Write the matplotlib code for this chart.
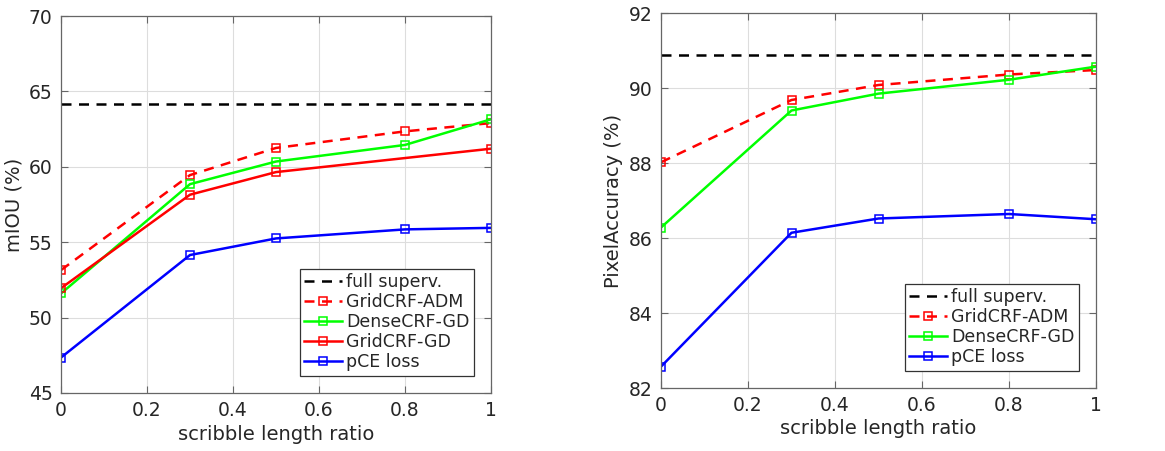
import matplotlib
matplotlib.use("Agg")
import matplotlib.pyplot as plt
import numpy as np

# Daten
ratios = [0, 0.3, 0.5, 0.8, 1]
ratios_gd = [0, 0.3, 0.5, 1]

miou_full = 64.15
miou_adm = [53.15, 59.45, 61.25, 62.35, 62.9]
miou_dense = [51.6, 58.85, 60.35, 61.45, 63.15]
miou_grid_gd = [51.95, 58.15, 59.65, 61.2]
miou_pce = [47.35, 54.15, 55.25, 55.85, 55.95]

acc_full = 90.88
acc_adm = [88.02, 89.68, 90.08, 90.36, 90.48]
acc_dense = [86.28, 89.4, 89.85, 90.22, 90.57]
acc_pce = [82.57, 86.14, 86.52, 86.64, 86.5]

x_ticks = [0, 0.2, 0.4, 0.6, 0.8, 1]
x_tick_labels = ['0', '0.2', '0.4', '0.6', '0.8', '1']

plt.rcParams['font.family'] = ['DejaVu Sans']
text_col = '#262626'
box_col = '#666666'

fig = plt.figure(figsize=(11.65, 4.51), dpi=100)
ax1 = fig.add_axes([61 / 1165, 1 - 393 / 451, 430 / 1165, 377 / 451])
ax2 = fig.add_axes([661 / 1165, 1 - 388 / 451, 435 / 1165, 375 / 451])

mk = dict(marker='s', markersize=5.5, markerfacecolor='none', markeredgewidth=1.1)
lw = 1.8


def style(ax, ylim, yticks, ylabel):
    ax.set_xlim(0, 1)
    ax.set_ylim(*ylim)
    ax.set_xticks(x_ticks)
    ax.set_xticklabels(x_tick_labels)
    ax.set_yticks(yticks)
    ax.grid(True, color='#dddddd', linewidth=0.8)
    ax.set_axisbelow(True)
    ax.tick_params(direction='in', length=5, width=0.8, colors=box_col,
                   labelcolor=text_col, labelsize=13.5, top=True, right=True, pad=6)
    for s in ax.spines.values():
        s.set_color(box_col)
        s.set_linewidth(0.9)
    ax.set_xlabel('scribble length ratio', fontsize=14, color=text_col, labelpad=3)
    ax.set_ylabel(ylabel, fontsize=14, color=text_col, labelpad=4)


# links: mIOU
ax1.axhline(miou_full, color='black', linestyle='--', linewidth=lw, dashes=(4, 3), label='full superv.')
ax1.plot(ratios, miou_adm, color='red', linestyle='--', dashes=(4, 3), linewidth=lw, label='GridCRF-ADM', **mk)
ax1.plot(ratios, miou_dense, color='lime', linewidth=lw, label='DenseCRF-GD', **mk)
ax1.plot(ratios_gd, miou_grid_gd, color='red', linewidth=lw, label='GridCRF-GD', **mk)
ax1.plot(ratios, miou_pce, color='blue', linewidth=lw, label='pCE loss', **mk)
style(ax1, (45, 70), [45, 50, 55, 60, 65, 70], 'mIOU (%)')

# rechts: Pixel Accuracy
ax2.axhline(acc_full, color='black', linestyle='--', linewidth=lw, dashes=(4, 3), label='full superv.')
ax2.plot(ratios, acc_adm, color='red', linestyle='--', dashes=(4, 3), linewidth=lw, label='GridCRF-ADM', **mk)
ax2.plot(ratios, acc_dense, color='lime', linewidth=lw, label='DenseCRF-GD', **mk)
ax2.plot(ratios, acc_pce, color='blue', linewidth=lw, label='pCE loss', **mk)
style(ax2, (82, 92), [82, 84, 86, 88, 90, 92], 'PixelAccuracy (%)')

for ax in (ax1, ax2):
    leg = ax.legend(loc='lower right', fontsize=12.5, fancybox=False, framealpha=1,
                    edgecolor='#333333', handlelength=2.2, handletextpad=0.2,
                    borderpad=0.25, labelspacing=0.12, borderaxespad=1.0)
    leg.get_frame().set_linewidth(0.9)
    for t in leg.get_texts():
        t.set_color(text_col)

plt.savefig("out.png", dpi=100)
